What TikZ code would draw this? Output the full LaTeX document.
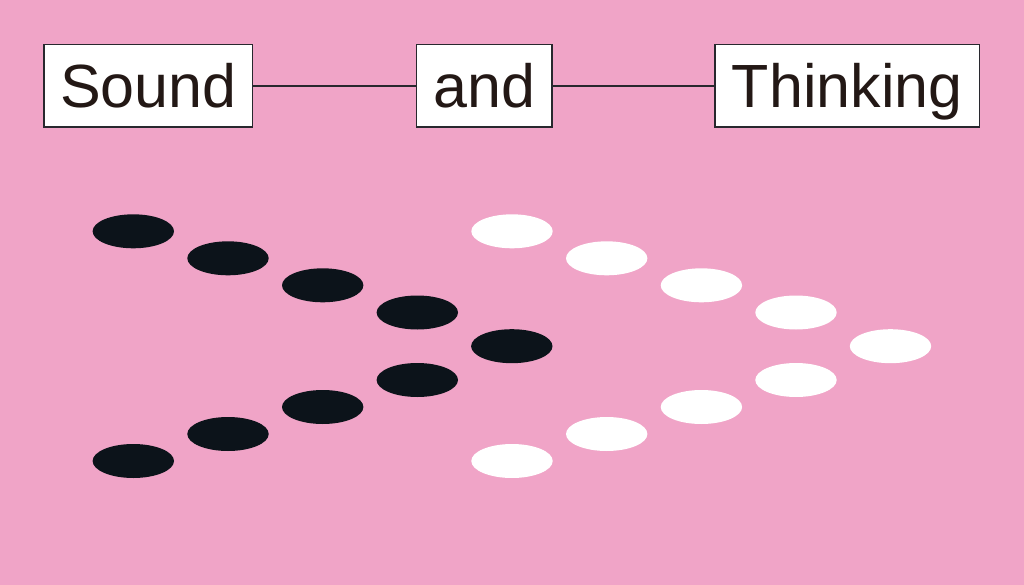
\documentclass[tikz,border=0pt]{standalone}
\usepackage{fontspec}
\setmainfont{Liberation Sans}
\definecolor{bgpink}{RGB}{240,164,199}
\definecolor{dotdark}{RGB}{12,19,26}
\definecolor{txtdark}{RGB}{35,24,21}
\definecolor{linedark}{RGB}{40,40,46}
\begin{document}
\begin{tikzpicture}[x=1pt,y=-1pt,
  wordbox/.style={draw=linedark, line width=1.5pt, fill=white, minimum height=82.2pt,
    inner sep=0pt, text=txtdark, font=\fontsize{61}{61}\selectfont,
    text height=43.7pt, text depth=0pt},
  link/.style={draw=linedark, line width=1.5pt},
  darkdot/.style={fill=dotdark},
  lightdot/.style={fill=white}]
\fill[bgpink] (0,0) rectangle (1024,585);
\useasboundingbox (0,0) rectangle (1024,585);
\node[wordbox, minimum width=208.5pt] (sound) at (148.3,85.8) {Sound};
\node[wordbox, minimum width=135.5pt] (and) at (484.2,85.8) {and};
\node[wordbox, minimum width=264.2pt] (thinking) at (847.2,85.8) {Thinking};
\draw[link] (sound) -- (and);
\draw[link] (and) -- (thinking);
% dots
\foreach \x/\y in {133.3/231.3, 228/258.3, 322.7/285.3, 417.3/312.5, 511.8/346.2,
                   417.3/380, 322.7/407, 228/434, 133.3/461}{
  \fill[darkdot] (\x,\y) ellipse [x radius=40.7, y radius=17];
  \fill[lightdot] (\x+378.7,\y) ellipse [x radius=40.7, y radius=17];
}
\end{tikzpicture}
\end{document}
